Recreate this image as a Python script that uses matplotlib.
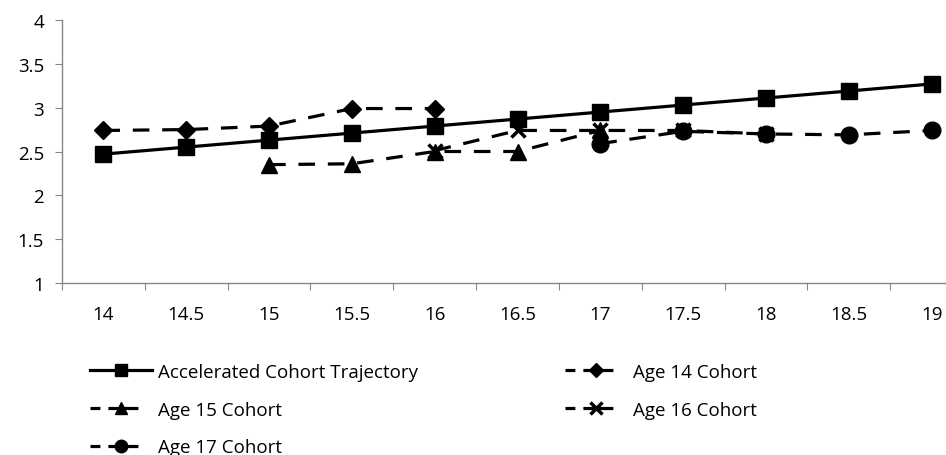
import matplotlib
matplotlib.use("Agg")
import matplotlib.pyplot as plt
import numpy as np
from matplotlib.lines import Line2D

ages = [14, 14.5, 15, 15.5, 16, 16.5, 17, 17.5, 18, 18.5, 19]
age_labels = ["14", "14.5", "15", "15.5", "16", "16.5", "17", "17.5", "18", "18.5", "19"]

accelerated = [2.47, 2.55, 2.63, 2.71, 2.79, 2.87, 2.95, 3.03, 3.11, 3.19, 3.27]

age14_x = [14, 14.5, 15, 15.5, 16]
age14_y = [2.74, 2.75, 2.79, 2.99, 2.99]

age15_x = [15, 15.5, 16, 16.5, 17]
age15_y = [2.35, 2.36, 2.50, 2.50, 2.74]

age16_x = [16, 16.5, 17, 17.5, 18]
age16_y = [2.51, 2.74, 2.74, 2.74, 2.70]

age17_x = [17, 17.5, 18, 18.5, 19]
age17_y = [2.59, 2.73, 2.70, 2.69, 2.74]

y_ticks = [1, 1.5, 2, 2.5, 3, 3.5, 4]
y_labels = ["1", "1.5", "2", "2.5", "3", "3.5", "4"]

plt.rcParams["font.family"] = ["Open Sans", "DejaVu Sans"]
fs = 13.5

fig = plt.figure(figsize=(9.46, 4.56), dpi=100)
# the category axis runs a little past the right edge of the figure
ax = fig.add_axes([62 / 946, 1 - 284 / 456, 911 / 946, 263 / 456])

dash = (5.2, 4)
lw = 2.3
ax.plot(ages, accelerated, color="black", lw=lw, marker="s", ms=12, zorder=3)
ax.plot(age14_x, age14_y, color="black", lw=lw, dashes=dash, marker="D", ms=9, zorder=3)
ax.plot(age15_x, age15_y, color="black", lw=lw, dashes=dash, marker="^", ms=12, zorder=3)
ax.plot(age16_x, age16_y, color="black", lw=lw, dashes=dash, marker="x", ms=10,
        mew=2.5, zorder=3)
ax.plot(age17_x, age17_y, color="black", lw=lw, dashes=dash, marker="o", ms=12, zorder=3)

ax.set_xlim(13.75, 19.25)
ax.set_ylim(1, 4)

# tick marks sit between categories, labels on the categories
ax.set_xticks(np.arange(13.75, 19.26, 0.5))
ax.set_xticks(ages, minor=True)
ax.set_xticklabels([])
ax.set_xticklabels(age_labels, minor=True)
ax.tick_params(axis="x", which="major", length=5, color="#868686", direction="out")
ax.tick_params(axis="x", which="minor", length=0, pad=16, labelsize=fs)

ax.set_yticks(y_ticks)
ax.set_yticklabels(y_labels)
ax.tick_params(axis="y", length=5, color="#868686", direction="out", labelsize=fs, pad=8)

for side in ["top", "right"]:
    ax.spines[side].set_visible(False)
for side in ["left", "bottom"]:
    ax.spines[side].set_color("#868686")
    ax.spines[side].set_linewidth(1)

# legend keys: short dash, then marker sitting on a longer stroke
key_dash = (3.1, 2.5, 9.4, 10)
key_solid = Line2D([], [], color="black", lw=lw, marker="s", ms=9)
key_14 = Line2D([], [], color="black", lw=lw, dashes=key_dash, marker="D", ms=7)
key_15 = Line2D([], [], color="black", lw=lw, dashes=key_dash, marker="^", ms=9)
key_16 = Line2D([], [], color="black", lw=lw, dashes=key_dash, marker="x", ms=8, mew=2.5)
key_17 = Line2D([], [], color="black", lw=lw, dashes=key_dash, marker="o", ms=9)

legend_kw = dict(loc="upper left", frameon=False, fontsize=fs, handlelength=3.3,
                 handletextpad=0.3, labelspacing=1.05, borderpad=0, borderaxespad=0)
fig.legend([key_solid, key_15, key_17],
           ["Accelerated Cohort Trajectory", "Age 15 Cohort", "Age 17 Cohort"],
           bbox_to_anchor=(90 / 946, 1 - 364 / 456), **legend_kw)
fig.legend([key_14, key_16], ["Age 14 Cohort", "Age 16 Cohort"],
           bbox_to_anchor=(565 / 946, 1 - 364 / 456), **legend_kw)

fig.savefig("out.png", dpi=100)
